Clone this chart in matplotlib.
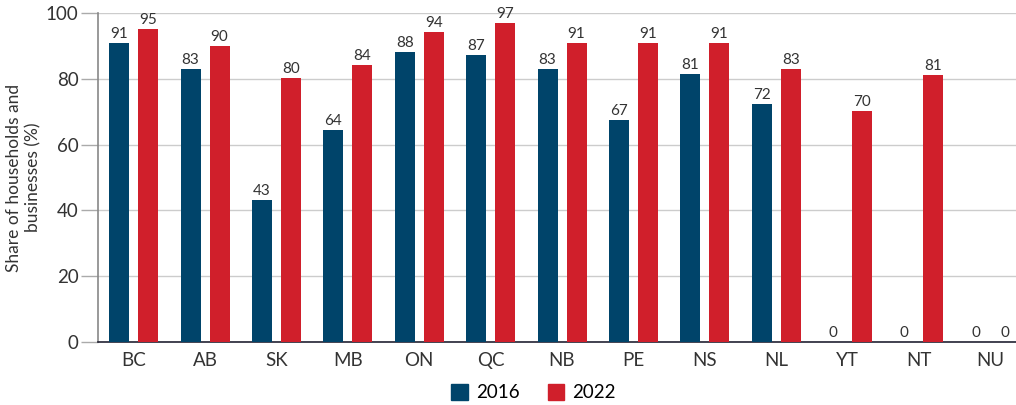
import numpy as np
import matplotlib
matplotlib.use("Agg")
import matplotlib.pyplot as plt
from matplotlib.patches import Patch

plt.rcParams['font.family'] = ['Lato', 'DejaVu Sans']

provinces = ['BC', 'AB', 'SK', 'MB', 'ON', 'QC', 'NB', 'PE', 'NS', 'NL', 'YT', 'NT', 'NU']
share_2016 = [91, 83, 43, 64, 88, 87, 83, 67, 81, 72, 0, 0, 0]
share_2022 = [95, 90, 80, 84, 94, 97, 91, 91, 91, 83, 70, 81, 0]
# bar heights sit a little above the printed (truncated) labels
height_2016 = [91.1, 83.1, 43.2, 64.6, 88.1, 87.2, 83.1, 67.4, 81.4, 72.5, 0, 0, 0]
height_2022 = [95.1, 90.1, 80.4, 84.2, 94.2, 97.2, 91.1, 91.1, 91.1, 83.2, 70.2, 81.3, 0]

blue = '#00446a'
red = '#d01f2b'

fig = plt.figure(figsize=(10.16, 4.05), dpi=100)
ax = fig.add_axes([0.0965, 0.156, 0.9035, 0.811])

x = np.arange(len(provinces))
off = 0.203
w = 0.28
ax.bar(x - off, height_2016, w, color=blue, zorder=3)
ax.bar(x + off, height_2022, w, color=red, zorder=3)

for xi, v, h in zip(x, share_2016, height_2016):
    ax.text(xi - off, h + 0.6, str(v), ha='center', va='bottom', fontsize=11, color='#333333')
for xi, v, h in zip(x, share_2022, height_2022):
    ax.text(xi + off, h + 0.6, str(v), ha='center', va='bottom', fontsize=11, color='#333333')

ax.set_xlim(-0.5, 12.36)
ax.set_ylim(0, 100)
ax.set_yticks([0, 20, 40, 60, 80, 100])
ax.set_xticks(x)
ax.set_xticklabels(provinces)
ax.tick_params(axis='y', length=12, width=1, color='#aaaaaa', labelsize=13.5, labelcolor='#333333', pad=2)
ax.tick_params(axis='x', length=0, labelsize=13.5, labelcolor='#333333', pad=7)
ax.grid(axis='y', color='#cccccc', linewidth=1, zorder=0)

ax.spines['top'].set_visible(False)
ax.spines['right'].set_visible(False)
ax.spines['left'].set_color('#888888')
ax.spines['left'].set_linewidth(1.2)
ax.spines['bottom'].set_color('#222233')
ax.spines['bottom'].set_linewidth(1.2)

ax.set_ylabel('Share of households and\nbusinesses (%)', fontsize=12.5, color='#333333', labelpad=3, linespacing=1.25)

handles = [Patch(color=blue, label='2016'), Patch(color=red, label='2022')]
fig.legend(handles=handles, loc='center', bbox_to_anchor=(0.525, 0.03), ncol=2, frameon=False,
           fontsize=13.5, handlelength=0.9, handleheight=0.9, handletextpad=0.4, columnspacing=1.5)

fig.savefig('out.png', dpi=100)
